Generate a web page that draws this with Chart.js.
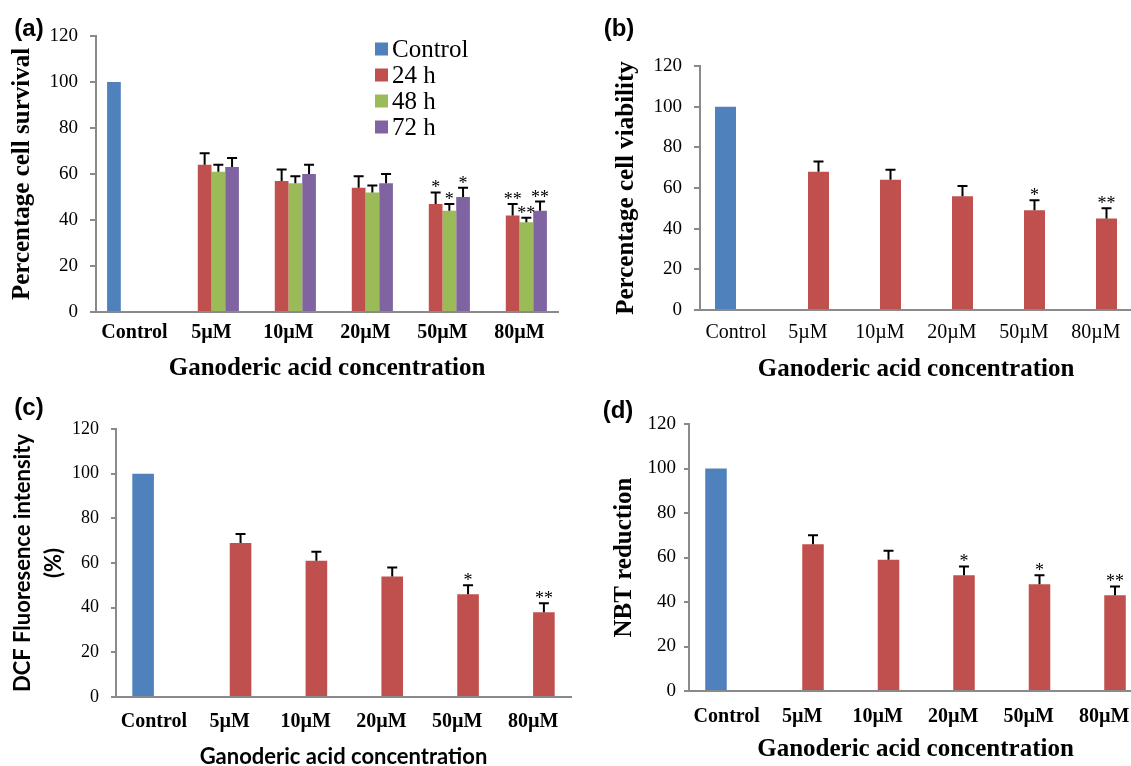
<!DOCTYPE html>
<html>
<head>
<meta charset="utf-8">
<script src="https://cdn.jsdelivr.net/npm/chart.js@4.4.1/dist/chart.umd.min.js"></script>
<style>
  html, body { margin: 0; padding: 0; background: #fff; overflow: hidden; }
  body { width: 1131px; height: 766px; position: relative; }
  canvas { position: absolute; }
</style>
</head>
<body>
<canvas id="chartA" width="565" height="390" style="left:0;top:0"></canvas>
<canvas id="chartB" width="600" height="390" style="left:560px;top:0"></canvas>
<canvas id="chartC" width="600" height="390" style="left:0;top:390px"></canvas>
<canvas id="chartD" width="600" height="390" style="left:560px;top:390px"></canvas>
<script>
// categories shared by all four panels
const categories = ['Control', '5µM', '10µM', '20µM', '50µM', '80µM'];
const yTicks = [0, 20, 40, 60, 80, 100, 120];

// (a) cell survival after 24/48/72 h
const controlValues = [100, null, null, null, null, null];
const survival24 = [null, 64, 57, 54, 47, 42];
const survival48 = [null, 61, 56, 52, 44, 39];
const survival72 = [null, 63, 60, 56, 50, 44];
const err24 = [null, 5, 5, 5, 5, 5];
const err48 = [null, 3, 3, 3, 3, 2];
const err72 = [null, 4, 4, 4, 4, 4];
const stars24 = ['', '', '', '', '*', '**'];
const stars48 = ['', '', '', '', '*', '**'];
const stars72 = ['', '', '', '', '*', '**'];

// (b) cell viability
const viability = [null, 68, 64, 56, 49, 45];
const viabilityErr = [null, 5, 5, 5, 5, 5];
const viabilityStars = ['', '', '', '', '*', '**'];

// (c) DCF fluorescence
const dcf = [null, 69, 61, 54, 46, 38];
const dcfErr = [null, 4, 4, 4, 4, 4];
const dcfStars = ['', '', '', '', '*', '**'];

// (d) NBT reduction
const nbt = [null, 66, 59, 52, 48, 43];
const nbtErr = [null, 4, 4, 4, 4, 4];
const nbtStars = ['', '', '', '*', '*', '**'];

const BLUE = '#4F81BD', RED = '#C0504D', GREEN = '#9BBB59', PURPLE = '#8064A2';
const SERIF = '"Liberation Serif", "Times New Roman", serif';
const SANS = 'Lato, "Open Sans", sans-serif';

Chart.defaults.color = '#000';

// error bars, asterisks, panel letter and the legend of panel (a)
const extras = {
    id: 'extras',
    afterDatasetsDraw(chart, args, opts) {
        const ctx = chart.ctx;
        const yScale = chart.scales.y;
        ctx.save();
        chart.data.datasets.forEach((ds, di) => {
            if (!ds.errors) return;
            const meta = chart.getDatasetMeta(di);
            meta.data.forEach((bar, i) => {
                const v = ds.data[i], e = ds.errors[i];
                if (v == null || e == null) return;
                const top = yScale.getPixelForValue(v + e);
                ctx.strokeStyle = '#000';
                ctx.lineWidth = 2;
                ctx.beginPath();
                ctx.moveTo(bar.x, bar.y);
                ctx.lineTo(bar.x, top);
                ctx.moveTo(bar.x - opts.cap / 2, top);
                ctx.lineTo(bar.x + opts.cap / 2, top);
                ctx.stroke();
                if (ds.stars && ds.stars[i]) {
                    ctx.fillStyle = '#000';
                    ctx.font = '18px ' + SERIF;
                    ctx.textAlign = 'center';
                    ctx.textBaseline = 'alphabetic';
                    ctx.fillText(ds.stars[i], bar.x, top + 1);
                }
            });
        });
        ctx.restore();
    },
    afterDraw(chart, args, opts) {
        const ctx = chart.ctx;
        ctx.save();
        ctx.fillStyle = '#000';
        ctx.font = 'bold 24px "Liberation Sans", Arial, sans-serif';
        ctx.textAlign = 'center';
        ctx.textBaseline = 'middle';
        ctx.fillText(opts.letter, opts.letterX, opts.letterY);
        if (opts.legend) {
            const lg = opts.legend;
            ctx.font = '25px ' + SERIF;
            ctx.textAlign = 'left';
            chart.data.datasets.forEach((ds, i) => {
                const cy = lg.y + i * lg.rowH;
                ctx.fillStyle = ds.backgroundColor;
                ctx.fillRect(lg.x, cy - 6.5, 13, 13);
                ctx.fillStyle = '#000';
                ctx.fillText(ds.label, lg.x + 17, cy + 1);
            });
        }
        ctx.restore();
    }
};

function makeChart(id, cfg) {
    const ctx = document.getElementById(id).getContext('2d');
    return new Chart(ctx, {
        type: 'bar',
        data: { labels: categories, datasets: cfg.datasets },
        plugins: [extras],
        options: {
            responsive: false,
            animation: false,
            devicePixelRatio: 1,
            layout: { padding: cfg.padding },
            datasets: {
                bar: { categoryPercentage: cfg.catPct, barPercentage: 1.0 }
            },
            scales: {
                x: {
                    grid: { display: false, drawTicks: false },
                    border: { color: '#8a8a8a', width: 2 },
                    ticks: { font: cfg.xTickFont, padding: cfg.xTickPad, maxRotation: 0, autoSkip: false },
                    title: { display: true, text: 'Ganoderic acid concentration', font: cfg.xTitleFont, padding: { top: 0, bottom: cfg.xTitlePad } },
                    afterFit(scale) { scale.height = cfg.xHeight; }
                },
                y: {
                    min: 0,
                    max: 120,
                    afterBuildTicks(scale) { scale.ticks = yTicks.map(v => ({ value: v })); },
                    grid: { drawOnChartArea: false, drawTicks: true, tickLength: cfg.tickLen, color: '#8a8a8a', lineWidth: 2 },
                    border: { color: '#8a8a8a', width: 2 },
                    ticks: { font: { family: SERIF, size: cfg.yTickSize }, padding: cfg.yTickPad },
                    title: { display: true, text: cfg.yTitle, font: cfg.yTitleFont, padding: { top: cfg.yTitlePad, bottom: 0 } },
                    afterFit(scale) { scale.width = cfg.yWidth; }
                }
            },
            plugins: {
                legend: { display: false },
                tooltip: { enabled: false },
                extras: cfg.extras
            }
        }
    });
}

function barSet(label, data, color, errors, stars) {
    return { label: label, data: data, backgroundColor: color, borderWidth: 0, errors: errors, stars: stars };
}

// (a)
makeChart('chartA', {
    datasets: [
        barSet('Control', controlValues, BLUE),
        barSet('24 h', survival24, RED, err24, stars24),
        barSet('48 h', survival48, GREEN, err48, stars48),
        barSet('72 h', survival72, PURPLE, err72, stars72)
    ],
    padding: { left: 0, top: 36, right: 7, bottom: 3 },
    catPct: 0.712,
    xTickFont: { family: SERIF, size: 20, weight: 'bold' },
    xTickPad: 9,
    xTitleFont: { family: SERIF, size: 25, weight: 'bold' },
    xTitlePad: 3,
    xHeight: 75,
    yTitle: 'Percentage cell survival',
    yTitleFont: { family: SERIF, size: 25, weight: 'bold' },
    yTitlePad: 8,
    yWidth: 96,
    tickLen: 6,
    yTickPad: 12,
    yTickSize: 19,
    extras: { cap: 10, letter: '(a)', letterX: 29, letterY: 29, legend: { x: 375, y: 49, rowH: 26 } }
});

// (b)
makeChart('chartB', {
    datasets: [
        barSet('Control', controlValues, BLUE),
        barSet('Treated', viability, RED, viabilityErr, viabilityStars)
    ],
    padding: { left: 44, top: 66, right: 28, bottom: 2 },
    catPct: 0.583,
    xTickFont: { family: SERIF, size: 20 },
    xTickPad: 11,
    xTitleFont: { family: SERIF, size: 25, weight: 'bold' },
    xTitlePad: 3,
    xHeight: 78,
    yTitle: 'Percentage cell viability',
    yTitleFont: { family: SERIF, size: 25, weight: 'bold' },
    yTitlePad: 8,
    yWidth: 96,
    tickLen: 6,
    yTickPad: 12,
    yTickSize: 19,
    extras: { cap: 10, letter: '(b)', letterX: 59, letterY: 29 }
});

// (c)
makeChart('chartC', {
    datasets: [
        barSet('Control', controlValues, BLUE),
        barSet('Treated', dcf, RED, dcfErr, dcfStars)
    ],
    padding: { left: 0, top: 39, right: 29, bottom: 7 },
    catPct: 0.57,
    xTickFont: { family: SERIF, size: 20, weight: 'bold' },
    xTickPad: 13,
    xTitleFont: { family: SANS, size: 22, weight: 'bold' },
    xTitlePad: 3,
    xHeight: 76,
    yTitle: ['DCF Fluoresence intensity', '(%)'],
    yTitleFont: { family: SANS, size: 22, weight: 'bold', lineHeight: 1.4 },
    yTitlePad: 8,
    yWidth: 116,
    tickLen: 5,
    yTickPad: 12,
    yTickSize: 18,
    extras: { cap: 10, letter: '(c)', letterX: 29, letterY: 18 }
});

// (d)
makeChart('chartD', {
    datasets: [
        barSet('Control', controlValues, BLUE),
        barSet('Treated', nbt, RED, nbtErr, nbtStars)
    ],
    padding: { left: 42, top: 34, right: 18, bottom: 12 },
    catPct: 0.57,
    xTickFont: { family: SERIF, size: 20, weight: 'bold' },
    xTickPad: 14,
    xTitleFont: { family: SERIF, size: 25, weight: 'bold' },
    xTitlePad: 3,
    xHeight: 77,
    yTitle: 'NBT reduction',
    yTitleFont: { family: SERIF, size: 25, weight: 'bold' },
    yTitlePad: 8,
    yWidth: 87,
    tickLen: 5,
    yTickPad: 8,
    yTickSize: 19,
    extras: { cap: 10, letter: '(d)', letterX: 58, letterY: 21 }
});
</script>
</body>
</html>
